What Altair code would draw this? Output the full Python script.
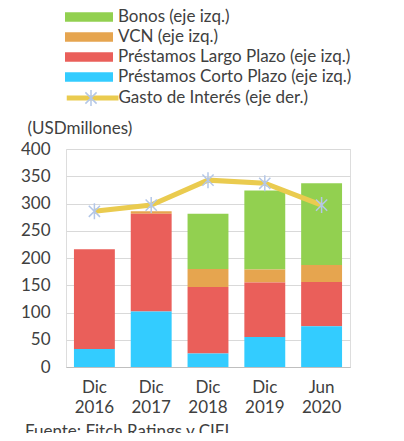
import altair as alt
import pandas as pd

fechas = ["Dic 2016", "Dic 2017", "Dic 2018", "Dic 2019", "Jun 2020"]
series = ["Bonos (eje izq.)", "VCN (eje izq.)", "Préstamos Largo Plazo (eje izq.)", "Préstamos Corto Plazo (eje izq.)"]
colores = ["#92d050", "#e6a54f", "#ea5f5a", "#33ccff"]
bonos = [0, 0, 101, 145, 150]
vcn = [0, 5, 33, 24, 31]
largo = [183, 179, 122, 100, 81]
corto = [33, 102, 25, 55, 75]
gasto = [5.0, 5.2, 6.0, 5.9, 5.2]
serie_linea = "Gasto de Interés (eje der.)"

FONT = "Lato"
FS = 17
TXT = "#404040"

rows = []
for i, f in enumerate(fechas):
    for orden, (s, vals) in enumerate(zip(series, [bonos, vcn, largo, corto])):
        rows.append({"fecha": f, "serie": s, "valor": vals[i], "orden": orden})
df_bar = pd.DataFrame(rows)
df_line = pd.DataFrame({"fecha": fechas, "gasto": gasto, "serie_l": serie_linea, "serie_p": serie_linea})

x_enc = alt.X("fecha:N", sort=fechas, title=None,
              scale=alt.Scale(paddingInner=0.28, paddingOuter=0.14),
              axis=alt.Axis(labelAngle=0, labelExpr="split(datum.label, ' ')", ticks=False,
                            labelPadding=12, labelLineHeight=20, labelFontSize=FS, labelFont=FONT,
                            labelColor=TXT, domainColor="#bfbfbf"))

bars = alt.Chart(df_bar).mark_bar().encode(
    x=x_enc,
    y=alt.Y("valor:Q", stack="zero", scale=alt.Scale(domain=[0, 400]),
            axis=alt.Axis(values=list(range(0, 401, 50)), title="(USDmillones)", titleAngle=0,
                          titleAlign="left", titleBaseline="middle", titleX=-39, titleY=-21,
                          titleFont=FONT, titleFontSize=FS, titleFontWeight="normal", titleColor=TXT,
                          labelFont=FONT, labelFontSize=FS, labelColor=TXT, labelPadding=16,
                          ticks=False, domain=False, gridColor="#d9d9d9")),
    color=alt.Color("serie:N", scale=alt.Scale(domain=series, range=colores),
                    legend=alt.Legend(orient="none", legendX=-1, legendY=-142, title=None,
                                      symbolType="M-1,-0.2H1V0.2H-1Z", symbolSize=2304,
                                      symbolStrokeWidth=0, symbolOpacity=1,
                                      labelFontSize=FS, labelFont=FONT, labelColor=TXT,
                                      labelLimit=400, labelOffset=5, rowPadding=0, padding=0,
                                      clipHeight=20)),
    order=alt.Order("orden:Q", sort="descending"),
)

line = alt.Chart(df_line).mark_line(strokeWidth=5).encode(
    x=alt.X("fecha:N", sort=fechas),
    y=alt.Y("gasto:Q", scale=alt.Scale(domain=[0, 7]),
            axis=alt.Axis(orient="right", values=[0, 1, 2, 3, 4, 5, 6, 7], format=".1f",
                          title="(%)", titleAngle=0, titleAlign="left", titleBaseline="middle",
                          titleX=22, titleY=-21, titleFont=FONT, titleFontSize=FS,
                          titleFontWeight="normal", titleColor=TXT,
                          labelFont=FONT, labelFontSize=FS, labelColor=TXT, labelPadding=15,
                          ticks=False, domain=False, grid=False)),
    stroke=alt.Stroke("serie_l:N", scale=alt.Scale(domain=[serie_linea], range=["#eacb4f"]),
                      legend=alt.Legend(orient="none", legendX=0.5, legendY=-61, title=None,
                                        symbolType="M-1.106,0H1.106", symbolSize=2209,
                                        symbolStrokeWidth=5,
                                        labelFontSize=FS, labelFont=FONT, labelColor=TXT,
                                        labelLimit=400, labelOffset=0, padding=0, clipHeight=20)),
)

ASTER = "M-0.7,-0.7L0.7,0.7M-0.7,0.7L0.7,-0.7M0,-1L0,1"
points = alt.Chart(df_line).mark_point(filled=False, strokeWidth=1.5, size=256, opacity=1,
                                       color="#b4c7e7").encode(
    x=alt.X("fecha:N", sort=fechas),
    y=alt.Y("gasto:Q", scale=alt.Scale(domain=[0, 7]), axis=None),
    shape=alt.Shape("serie_p:N", scale=alt.Scale(range=[ASTER]),
                    legend=alt.Legend(orient="none", legendX=16, legendY=-61, title=None,
                                      symbolSize=256, symbolStrokeColor="#b4c7e7",
                                      symbolStrokeWidth=1.5, labelExpr="''", padding=0,
                                      clipHeight=20)),
)

right = alt.layer(line, points)

chart = alt.layer(bars, right).resolve_scale(
    y="independent", color="independent", stroke="independent", shape="independent"
).properties(
    width=284, height=218,
    autosize=alt.AutoSizeParams(type="none"),
    padding={"left": 58, "top": 141, "right": 46, "bottom": 66},
    title=alt.TitleParams("Fuente: Fitch Ratings y CIFI", orient="bottom", anchor="start",
                          frame="group", dx=-41, offset=9, fontSize=FS, font=FONT,
                          fontWeight="normal", color=TXT),
).configure_view(stroke="#d9d9d9").configure(background="white")

chart.save("out.html", embed_options={"renderer": "svg", "actions": False})
